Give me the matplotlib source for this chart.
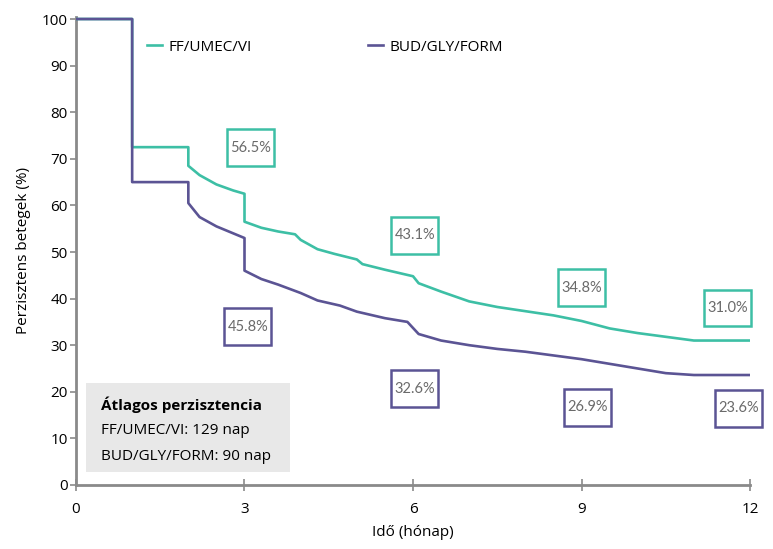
import matplotlib
matplotlib.use("Agg")
import matplotlib.pyplot as plt
from matplotlib.patches import Rectangle

plt.rcParams['font.family'] = ['Open Sans', 'DejaVu Sans']

# Kaplan-Meier style curves (time in months, % persistent)
ff_t = [0, 1, 1, 2, 2, 2.2, 2.5, 2.8, 3, 3, 3.3, 3.6, 3.9, 4, 4.3, 4.6, 5, 5.1, 5.5,
        6, 6.1, 6.5, 7, 7.5, 8, 8.5, 9, 9.5, 10, 10.5, 11, 12]
ff_y = [100, 100, 72.5, 72.5, 68.5, 66.5, 64.5, 63.2, 62.5, 56.5, 55.2, 54.4, 53.8, 52.6,
        50.6, 49.6, 48.4, 47.4, 46.2, 44.8, 43.3, 41.5, 39.4, 38.2, 37.3, 36.4, 35.2,
        33.6, 32.6, 31.8, 31.0, 31.0]

bud_t = [0, 1, 1, 2, 2, 2.2, 2.5, 2.8, 3, 3, 3.3, 3.6, 4, 4.3, 4.7, 5, 5.5, 5.9,
         6.1, 6.5, 7, 7.5, 8, 8.5, 9, 9.5, 10, 10.5, 11, 12]
bud_y = [100, 100, 65, 65, 60.5, 57.5, 55.5, 54.0, 53.0, 46.0, 44.2, 43.0, 41.2, 39.6,
         38.5, 37.2, 35.8, 35.0, 32.4, 31.0, 30.0, 29.2, 28.6, 27.8, 27.0, 26.0, 25.0,
         24.0, 23.6, 23.6]

# boxed percentage labels
ff_lbl_x = [3.1, 6.03, 9.0, 11.6]
ff_lbl_y = [72.4, 53.6, 42.3, 38.0]
ff_lbl = ['56.5%', '43.1%', '34.8%', '31.0%']
bud_lbl_x = [3.06, 6.03, 9.1, 11.8]
bud_lbl_y = [34.0, 20.7, 16.7, 16.5]
bud_lbl = ['45.8%', '32.6%', '26.9%', '23.6%']

teal = '#3dbfa5'
purple = '#5b5494'
axis_gray = '#8a8a8a'

fig = plt.figure(figsize=(7.73, 5.49), dpi=100)
ax = fig.add_axes([0.0983, 0.1166, 0.872, 0.853])

ax.plot(ff_t, ff_y, color=teal, lw=1.9, label='FF/UMEC/VI')
ax.plot(bud_t, bud_y, color=purple, lw=1.9, label='BUD/GLY/FORM')

bw, bh = 0.84, 7.9
for xs, ys, labels, col in [(ff_lbl_x, ff_lbl_y, ff_lbl, teal),
                            (bud_lbl_x, bud_lbl_y, bud_lbl, purple)]:
    for x, y, s in zip(xs, ys, labels):
        ax.add_patch(Rectangle((x - bw / 2, y - bh / 2), bw, bh, fc='white',
                               ec=col, lw=1.8, zorder=3, clip_on=False))
        ax.text(x, y, s, ha='center', va='center', fontsize=10.5, color='#6a6a6a',
                family=['Lato', 'DejaVu Sans'], zorder=4)

# mean persistence box
ax.add_patch(Rectangle((0.18, 2.8), 3.63, 19.0, fc='#e8e8e8', ec='none', zorder=1))
ax.text(0.45, 17.3, 'Átlagos perzisztencia', fontsize=11, fontweight='bold', va='center')
ax.text(0.45, 11.7, 'FF/UMEC/VI: 129 nap', fontsize=11, va='center')
ax.text(0.45, 6.2, 'BUD/GLY/FORM: 90 nap', fontsize=11, va='center')

ax.set_xlim(0, 12)
ax.set_ylim(0, 100.5)
ax.set_xticks([0, 3, 6, 9, 12])
ax.set_yticks(range(0, 101, 10))
ax.tick_params(axis='y', direction='out', length=4, width=1.2, color=axis_gray,
               labelsize=11, pad=2)
ax.tick_params(axis='x', direction='inout', length=8, width=1.2, color=axis_gray,
               labelsize=11, pad=8)
for side in ['top', 'right']:
    ax.spines[side].set_visible(False)
for side in ['left', 'bottom']:
    ax.spines[side].set_color(axis_gray)
    ax.spines[side].set_linewidth(2)
ax.spines['left'].set_zorder(0)

ax.set_xlabel('Idő (hónap)', fontsize=11, labelpad=6)
ax.set_ylabel('Perzisztens betegek (%)', fontsize=11, labelpad=8)

ax.legend(loc='upper left', bbox_to_anchor=(0.085, 0.98), ncol=2, frameon=False,
          handlelength=1.0, handletextpad=0.4, columnspacing=7.6, fontsize=11)

fig.savefig('out.png', dpi=100)
